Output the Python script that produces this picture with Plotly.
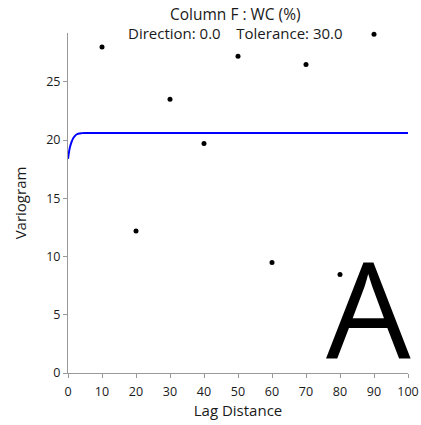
import plotly.graph_objects as go

lag = [10, 20, 30, 40, 50, 60, 70, 80, 90]
gamma = [28.0, 12.2, 23.5, 19.7, 27.2, 9.5, 26.5, 8.45, 29.1]

model_x = [0, 0.5, 1, 1.5, 2, 2.5, 3, 4, 5, 100]
model_y = [18.4, 19.3, 19.8, 20.15, 20.35, 20.48, 20.55, 20.6, 20.62, 20.62]

title1 = "Column F : WC (%)"
title2 = "Direction: 0.0    Tolerance: 30.0"
FONT = "Open Sans"

W, H = 421, 425
ML, MR, MT, MB = 68, 13, 33, 52
plot_w = W - ML - MR
plot_h = H - MT - MB


def px_x(p):
    return (p - ML) / plot_w


def px_y(p):
    return (H - MB - p) / plot_h


fig = go.Figure()
fig.add_trace(go.Scatter(x=model_x, y=model_y, mode="lines",
                         line=dict(color="#0000ff", width=2, shape="spline"),
                         showlegend=False, hoverinfo="skip"))
fig.add_trace(go.Scatter(x=lag, y=gamma, mode="markers",
                         marker=dict(color="black", size=5),
                         showlegend=False, cliponaxis=False))

fig.update_layout(
    width=W, height=H,
    margin=dict(l=ML, r=MR, t=MT, b=MB, autoexpand=False),
    paper_bgcolor="white", plot_bgcolor="white",
    font=dict(family=FONT, color="#1a1a1a", size=12),
)
fig.add_annotation(text=title1, x=px_x(235), y=px_y(14), xref="paper", yref="paper",
                   xanchor="center", yanchor="middle", showarrow=False,
                   font=dict(size=15.5))
fig.add_annotation(text=title2, x=px_x(235), y=px_y(33), xref="paper", yref="paper",
                   xanchor="center", yanchor="middle", showarrow=False,
                   font=dict(size=15))
fig.add_annotation(text="A", x=px_x(368), y=px_y(306), xref="paper", yref="paper",
                   xanchor="center", yanchor="middle", showarrow=False,
                   font=dict(size=134, color="black"))

fig.update_xaxes(range=[0, 100], tickvals=[0, 10, 20, 30, 40, 50, 60, 70, 80, 90, 100],
                 showgrid=False, zeroline=False, showline=True, linecolor="#999999",
                 linewidth=1, ticks="outside", ticklen=4, tickcolor="#999999",
                 automargin=False, ticklabelstandoff=3,
                 title=dict(text="Lag Distance", font=dict(size=15), standoff=2),
                 tickfont=dict(size=12.5))
fig.update_yaxes(range=[0, 29.2], tickvals=[0, 5, 10, 15, 20, 25],
                 showgrid=False, zeroline=False, showline=True, linecolor="#999999",
                 linewidth=1, ticks="outside", ticklen=4, tickcolor="#999999",
                 automargin=False,
                 title=dict(text="Variogram", font=dict(size=15)),
                 tickfont=dict(size=12.5))

fig.write_html("out.html")
